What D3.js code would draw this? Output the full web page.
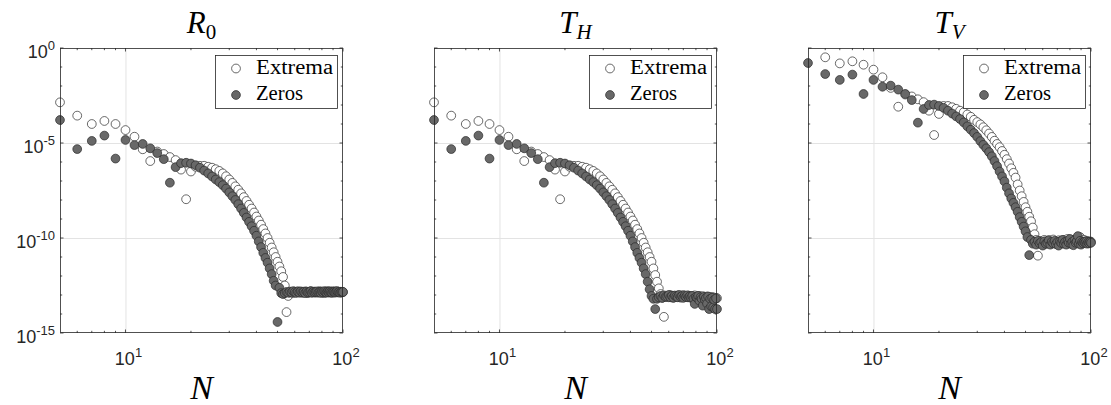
<!DOCTYPE html>
<html>
<head>
<meta charset="utf-8">
<script src="https://cdn.jsdelivr.net/npm/d3@7"></script>
<style>
  html, body { margin: 0; padding: 0; background: #fff; }
  svg { display: block; }
  .sans { font-family: 'Liberation Sans', Arial, sans-serif; }
  .serif { font-family: 'Liberation Serif', 'Times New Roman', serif; }
</style>
</head>
<body>
<div id="chart"></div>
<script>
// index.html - three log-log panels: error vs N for extrema / zeros

const W = 1111, H = 405;

// N values on the x axis
const nValues = [
  5, 6, 7, 8, 9, 10, 11, 12, 13, 14,
  15, 16, 17, 18, 19, 20, 21, 22, 23, 24,
  25, 26, 27, 28, 29, 30, 31, 32, 33, 34,
  35, 36, 37, 38, 39, 40, 41, 42, 43, 44,
  45, 46, 47, 48, 49, 50, 51, 52, 53, 54,
  55, 56, 57, 58, 59, 60, 61, 62, 63, 64,
  65, 66, 67, 68, 69, 70, 71, 72, 73, 74,
  75, 76, 77, 78, 79, 80, 81, 82, 83, 84,
  85, 86, 87, 88, 89, 90, 91, 92, 93, 94,
  95, 96, 97, 98, 99, 100
];

// values are stored as log10 of the error
const r0Extrema = [
  -2.86, -3.56, -4.00, -3.84, -4.00, -4.32, -4.67, -5.33, -5.95, -5.45,
  -5.58, -5.74, -5.90, -6.40, -7.96, -6.50, -6.25, -6.20, -6.20, -6.25,
  -6.30, -6.38, -6.47, -6.60, -6.75, -6.92, -7.10, -7.28, -7.46, -7.65,
  -7.85, -8.05, -8.25, -8.45, -8.66, -8.87, -9.08, -9.30, -9.53, -9.76,
  -10.00, -10.25, -10.50, -10.75, -11.00, -11.25, -11.50, -11.75, -12.05, -12.50,
  -13.90, -13.05, -12.88, -12.84, -12.90, -12.82, -12.86, -12.80, -12.87, -12.83,
  -12.89, -12.85, -12.81, -12.86, -12.90, -12.84, -12.80, -12.87, -12.85, -12.82,
  -12.88, -12.84, -12.86, -12.80, -12.83, -12.87, -12.85, -12.90, -12.82, -12.84,
  -12.79, -12.86, -12.83, -12.88, -12.81, -12.85, -12.87, -12.80, -12.84, -12.86,
  -12.82, -12.85, -12.83, -12.87, -12.84, -12.85
];
const r0Zeros = [
  -3.79, -5.32, -4.89, -4.61, -5.82, -4.84, -5.11, -5.05, -5.28, -5.53,
  -5.85, -7.09, -6.27, -6.06, -6.04, -6.08, -6.17, -6.30, -6.45, -6.60,
  -6.76, -6.92, -7.06, -7.22, -7.40, -7.60, -7.80, -8.00, -8.22, -8.45,
  -8.68, -8.92, -9.15, -9.38, -9.62, -9.88, -10.18, -10.48, -10.78, -11.05,
  -11.30, -11.60, -11.90, -12.25, -12.50, -14.42, -12.62, -12.90, -12.95, -12.90,
  -12.84, -12.88, -12.82, -12.86, -12.80, -12.85, -12.89, -12.83, -12.87, -12.81,
  -12.86, -12.84, -12.90, -12.82, -12.87, -12.85, -12.80, -12.88, -12.83, -12.86,
  -12.84, -12.81, -12.87, -12.85, -12.89, -12.82, -12.86, -12.80, -12.84, -12.88,
  -12.83, -12.86, -12.81, -12.85, -12.88, -12.82, -12.84, -12.87, -12.83, -12.80,
  -12.86, -12.84, -12.88, -12.83, -12.85, -12.84
];

const thExtrema = [
  -2.86, -3.56, -4.00, -3.84, -4.00, -4.32, -4.67, -5.33, -5.95, -5.45,
  -5.58, -5.74, -5.90, -6.40, -7.96, -6.50, -6.25, -6.20, -6.20, -6.25,
  -6.30, -6.38, -6.47, -6.60, -6.75, -6.92, -7.10, -7.28, -7.46, -7.65,
  -7.85, -8.05, -8.25, -8.45, -8.66, -8.87, -9.08, -9.30, -9.53, -9.76,
  -10.00, -10.25, -10.50, -10.75, -11.00, -11.25, -11.60, -11.95, -12.30, -12.65,
  -12.95, -13.15, -14.15, -13.10, -13.05, -13.12, -13.00, -13.08, -13.15, -13.04,
  -13.10, -13.02, -13.08, -13.14, -13.05, -13.00, -13.10, -13.06, -13.12, -13.03,
  -13.08, -13.14, -13.05, -13.10, -13.02, -13.12, -13.07, -13.15, -13.05, -13.10,
  -13.12, -13.06, -13.15, -13.10, -13.18, -13.08, -13.14, -13.20, -13.12, -13.16,
  -13.10, -13.18, -13.14, -13.20, -13.15, -13.17
];
const thZeros = [
  -3.79, -5.32, -4.89, -4.61, -5.82, -4.84, -5.11, -5.05, -5.28, -5.53,
  -5.85, -7.09, -6.27, -6.06, -6.04, -6.08, -6.17, -6.30, -6.45, -6.60,
  -6.76, -6.92, -7.06, -7.22, -7.40, -7.60, -7.80, -8.00, -8.22, -8.45,
  -8.68, -8.92, -9.15, -9.38, -9.62, -9.88, -10.18, -10.48, -10.78, -11.05,
  -11.30, -11.60, -11.90, -12.30, -12.70, -13.05, -13.20, -13.74, -13.20, -13.12,
  -13.05, -13.15, -13.02, -13.10, -13.08, -13.00, -13.12, -13.05, -13.14, -13.03,
  -13.08, -13.12, -13.00, -13.10, -13.06, -13.15, -13.04, -13.10, -13.02, -13.12,
  -13.07, -13.14, -13.05, -13.20, -13.47, -13.10, -13.15, -13.05, -13.30, -13.12,
  -13.20, -13.56, -13.10, -13.25, -13.15, -13.45, -13.08, -13.74, -13.20, -13.60,
  -13.15, -13.65, -13.25, -13.74, -13.18, -13.74
];

const tvExtrema = [
  null, -0.49, -0.81, -0.70, -0.88, -1.14, -1.54, -2.10, -3.09, -2.45,
  -2.55, -2.70, -2.85, -3.30, -4.58, -3.47, -3.05, -3.05, -3.12, -3.20,
  -3.30, -3.38, -3.50, -3.62, -3.78, -3.90, -4.02, -4.17, -4.33, -4.50,
  -4.68, -4.88, -5.05, -5.22, -5.42, -5.62, -5.85, -6.08, -6.33, -6.57,
  -6.82, -7.18, -7.50, -7.80, -8.10, -8.38, -8.62, -8.88, -9.12, -9.45,
  -9.80, -10.10, -10.93, -10.20, -10.15, -10.25, -10.10, -10.18, -10.30, -10.12,
  -10.22, -10.15, -10.08, -10.25, -10.18, -10.30, -10.12, -10.20, -10.15, -10.28,
  -10.10, -10.22, -10.18, -10.05, -10.25, -10.15, -10.30, -10.12, -10.20, -10.08,
  -10.22, -10.15, -10.28, -10.10, -9.95, -10.20, -10.15, -10.25, -10.10, -10.18,
  -10.22, -10.15, -10.20, -10.25, -10.18, -10.20
];
const tvZeros = [
  -0.79, -1.37, -1.68, -1.40, -2.42, -1.68, -2.04, -1.98, -2.19, -2.42,
  -2.74, -3.93, -3.21, -3.00, -2.98, -3.05, -3.15, -3.30, -3.45, -3.60,
  -3.74, -3.92, -4.12, -4.30, -4.48, -4.68, -4.90, -5.10, -5.28, -5.48,
  -5.70, -5.95, -6.22, -6.50, -6.76, -7.02, -7.35, -7.65, -7.92, -8.15,
  -8.38, -8.62, -8.90, -9.15, -9.40, -9.65, -9.95, -10.90, -10.10, -10.30,
  -10.20, -10.35, -10.15, -10.28, -10.22, -10.40, -10.18, -10.30, -10.25, -10.12,
  -10.35, -10.20, -10.28, -10.15, -10.32, -10.22, -10.40, -10.18, -10.26, -10.10,
  -10.30, -10.20, -10.35, -10.15, -10.25, -10.05, -10.30, -10.20, -10.38, -10.12,
  -10.25, -10.18, -9.90, -10.30, -10.15, -10.35, -10.22, -10.28, -10.20, -10.25,
  -10.18, -10.30, -10.22, -10.28, -10.20, -10.25
];

// axis ticks / labels
const xMajorTicks = [10, 100];
const xMinorTicks = [6, 7, 8, 9, 20, 30, 40, 50, 60, 70, 80, 90];
const xTickExp = ['1', '2'];
const yMajorTicks = [1, 1e-5, 1e-10, 1e-15];
const yMajorExp = ['0', '-5', '-10', '-15'];
const yMinorTicks = [1e-1, 1e-2, 1e-3, 1e-4, 1e-6, 1e-7, 1e-8, 1e-9,
                     1e-11, 1e-12, 1e-13, 1e-14];
const legendLabels = ['Extrema', 'Zeros'];

const panels = [
  { main: 'R', sub: '0', subItalic: false, extrema: r0Extrema, zeros: r0Zeros, left: 60, yLabels: true },
  { main: 'T', sub: 'H', subItalic: true, extrema: thExtrema, zeros: thZeros, left: 434, yLabels: false },
  { main: 'T', sub: 'V', subItalic: true, extrema: tvExtrema, zeros: tvZeros, left: 808, yLabels: false }
];

const plotW = 283, plotTop = 48, plotBottom = 333;
const axisColor = '#262626';
const grayFill = '#686868';
const markerR = 4.4;

const svg = d3.select('#chart')
  .append('svg')
  .attr('width', W)
  .attr('height', H);

function drawPanel(p) {
  const x = d3.scaleLog().domain([5, 100]).range([p.left, p.left + plotW]);
  const y = d3.scaleLog().domain([1e-15, 1]).range([plotBottom, plotTop]);
  const g = svg.append('g');

  // grid lines
  g.selectAll('.gx').data([10]).enter().append('line')
    .attr('x1', d => x(d) + 0.5).attr('x2', d => x(d) + 0.5)
    .attr('y1', plotTop).attr('y2', plotBottom)
    .attr('stroke', '#e3e3e3').attr('stroke-width', 1);
  g.selectAll('.gy').data([1e-5, 1e-10]).enter().append('line')
    .attr('x1', p.left).attr('x2', p.left + plotW)
    .attr('y1', d => Math.round(y(d)) + 0.5).attr('y2', d => Math.round(y(d)) + 0.5)
    .attr('stroke', '#e3e3e3').attr('stroke-width', 1);

  // ticks on all four sides, pointing inwards
  const tickG = g.append('g').attr('stroke', axisColor).attr('stroke-width', 0.8);
  const xt = xMajorTicks.map(v => ({ v, len: 3.5 })).concat(xMinorTicks.map(v => ({ v, len: 2.2 })));
  xt.forEach(t => {
    tickG.append('line').attr('x1', x(t.v)).attr('x2', x(t.v)).attr('y1', plotBottom).attr('y2', plotBottom - t.len);
    tickG.append('line').attr('x1', x(t.v)).attr('x2', x(t.v)).attr('y1', plotTop).attr('y2', plotTop + t.len);
  });
  const yt = yMajorTicks.map(v => ({ v, len: 3.5 })).concat(yMinorTicks.map(v => ({ v, len: 2.2 })));
  yt.forEach(t => {
    tickG.append('line').attr('x1', p.left).attr('x2', p.left + t.len).attr('y1', y(t.v)).attr('y2', y(t.v));
    tickG.append('line').attr('x1', p.left + plotW).attr('x2', p.left + plotW - t.len).attr('y1', y(t.v)).attr('y2', y(t.v));
  });

  // data points (extrema first, zeros on top)
  const series = [
    { vals: p.extrema, fill: '#ffffff' },
    { vals: p.zeros, fill: grayFill }
  ];
  series.forEach(s => {
    const pts = nValues.map((n, i) => ({ n, v: s.vals[i] }))
      .filter(d => d.v !== null && d.v <= 0 && d.v >= -15);
    g.append('g').selectAll('circle').data(pts).enter().append('circle')
      .attr('cx', d => x(d.n))
      .attr('cy', d => y(Math.pow(10, d.v)))
      .attr('r', markerR)
      .attr('fill', s.fill)
      .attr('stroke', '#2a2a2a')
      .attr('stroke-width', 0.7);
  });

  // box
  g.append('rect')
    .attr('x', p.left + 0.5).attr('y', plotTop + 0.5)
    .attr('width', plotW - 1).attr('height', plotBottom - plotTop - 1)
    .attr('fill', 'none').attr('stroke', axisColor).attr('stroke-width', 0.8);

  // x tick labels
  xMajorTicks.forEach((v, i) => {
    const t = g.append('text').attr('class', 'sans')
      .attr('x', x(v) + 3).attr('y', 365)
      .attr('text-anchor', 'middle')
      .style('font-size', '18px')
      .attr('fill', axisColor);
    t.append('tspan').text('10');
    t.append('tspan').attr('dy', -8).style('font-size', '13px').text(xTickExp[i]);
  });

  // y tick labels (first panel only)
  if (p.yLabels) {
    yMajorTicks.forEach((v, i) => {
      const t = g.append('text').attr('class', 'sans')
        .attr('x', p.left - 5).attr('y', y(v) + 10)
        .attr('text-anchor', 'end')
        .style('font-size', '18px')
        .attr('fill', axisColor);
      t.append('tspan').text('10');
      t.append('tspan').attr('dy', -8).style('font-size', '13px').text(yMajorExp[i]);
    });
  }

  // title
  const cx = p.left + plotW / 2;
  const title = g.append('text').attr('class', 'serif')
    .attr('x', cx).attr('y', 33)
    .attr('text-anchor', 'middle')
    .style('font-size', '31px')
    .attr('fill', '#000');
  title.append('tspan').style('font-style', 'italic').text(p.main);
  title.append('tspan').attr('dy', 6).style('font-size', '21px')
    .style('font-style', p.subItalic ? 'italic' : 'normal').text(p.sub);

  // x label
  g.append('text').attr('class', 'serif')
    .attr('x', cx).attr('y', 399)
    .attr('text-anchor', 'middle')
    .style('font-size', '34px')
    .style('font-style', 'italic')
    .attr('fill', '#000')
    .text('N');

  // legend
  const lg = g.append('g').attr('transform', `translate(${p.left + 155},55)`);
  lg.append('rect')
    .attr('x', 0.5).attr('y', 0.5).attr('width', 122).attr('height', 53)
    .attr('fill', '#fff').attr('stroke', axisColor).attr('stroke-width', 0.8);
  const lFills = ['#ffffff', grayFill];
  const lWidths = [77, 47];
  legendLabels.forEach((lab, i) => {
    lg.append('circle')
      .attr('cx', 21).attr('cy', 13.5 + i * 26.5).attr('r', markerR)
      .attr('fill', lFills[i]).attr('stroke', '#2a2a2a').attr('stroke-width', 0.7);
    lg.append('text').attr('class', 'serif')
      .attr('x', 41).attr('y', 19 + i * 26)
      .style('font-size', '20px')
      .attr('textLength', lWidths[i]).attr('lengthAdjust', 'spacingAndGlyphs')
      .attr('fill', '#000')
      .text(lab);
  });
}

panels.forEach(drawPanel);
</script>
</body>
</html>
